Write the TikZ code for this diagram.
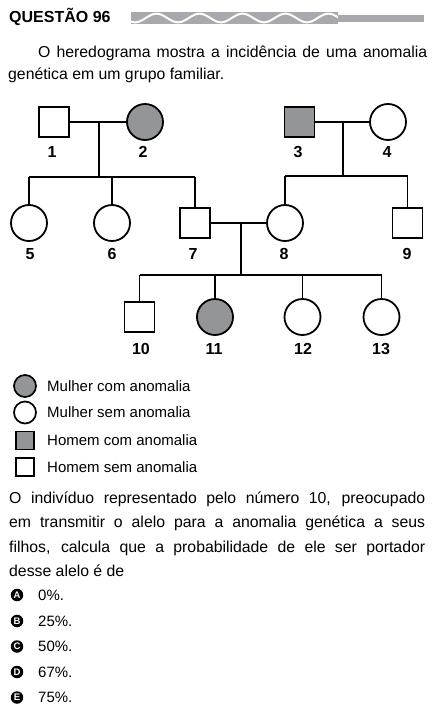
\documentclass[tikz,border=0pt]{standalone}
\usepackage{fontspec}
\setmainfont{Liberation Sans}
\definecolor{anom}{HTML}{939598}
\definecolor{wavegray}{HTML}{A7A9AC}
\newcommand{\bodyfnt}{\fontsize{15.8}{19}\selectfont}
\newcommand{\legfnt}{\fontsize{15}{18}\selectfont}
\begin{document}
\begin{tikzpicture}[x=1pt,y=-1pt,
  ind/.style={draw=black, line width=1.8pt, inner sep=0pt},
  fem/.style={ind, circle, minimum size=36pt},
  mal/.style={ind, rectangle, minimum size=30pt},
  aff/.style={fill=anom},
  lab/.style={font=\fontsize{16}{16}\selectfont\bfseries, inner sep=0pt},
  link/.style={draw=black, line width=1.8pt},
  txt/.style={anchor=base west, inner sep=0pt, font=\bodyfnt},
  legtxt/.style={anchor=base west, inner sep=0pt, font=\legfnt},
  legfem/.style={draw=black, line width=1.7pt, circle, inner sep=0pt, minimum size=22pt},
  legmal/.style={draw=black, line width=1.7pt, rectangle, inner sep=0pt, minimum size=18pt},
  optc/.style={circle, fill=black, inner sep=0pt, minimum size=12.5pt, text=white, font=\fontsize{9.5}{9.5}\selectfont\bfseries},
  opttxt/.style={anchor=base west, inner sep=0pt, font=\legfnt}
]
\useasboundingbox (0,0) rectangle (432,715);
\fill[white] (0,0) rectangle (432,715);

% header
\node[anchor=base west, inner sep=0pt, font=\fontsize{16}{16}\selectfont\bfseries] (title) at (9,22.5) {QUESTÃO 96};
\fill[wavegray] (131,12) rectangle (338,24);
\begin{scope}
  \clip (131,12) rectangle (338,24);
  \draw[white, line width=2pt] plot[domain=128:340, samples=150, smooth] (\x,{18+4.3*cos(8.3721*(\x-135))});
\end{scope}
\fill[wavegray] (338,15) rectangle (424,21.5);

% intro text
\node[txt] (t1) at (38,57) {\makebox[389pt][s]{O heredograma mostra a incidência de uma anomalia}};
\node[txt] (t2) at (8,79) {genética em um grupo familiar.};

% pedigree individuals
\node[mal] (p1) at (54,122) {};
\node[fem, aff] (p2) at (145,122) {};
\node[mal, aff] (p3) at (299.5,122) {};
\node[fem] (p4) at (388,122) {};
\node[fem] (p5) at (29,223) {};
\node[fem] (p6) at (112,223) {};
\node[mal] (p7) at (195,223) {};
\node[fem] (p8) at (285,223) {};
\node[mal] (p9) at (407.5,223) {};
\node[mal] (p10) at (139.5,317) {};
\node[fem, aff] (p11) at (215,317) {};
\node[fem] (p12) at (302.5,317) {};
\node[fem] (p13) at (381.5,317) {};

% labels
\node[lab] (l1) at (52,152) {1};
\node[lab] (l2) at (143,152) {2};
\node[lab] (l3) at (298,152) {3};
\node[lab] (l4) at (387,152) {4};
\node[lab] (l5) at (30,254) {5};
\node[lab] (l6) at (112,254) {6};
\node[lab] (l7) at (193,254) {7};
\node[lab] (l8) at (284,254) {8};
\node[lab] (l9) at (407,254) {9};
\node[lab] (l10) at (141,349) {10};
\node[lab] (l11) at (214,349) {11};
\node[lab] (l12) at (303,349) {12};
\node[lab] (l13) at (381,349) {13};

% connectors
\coordinate (m12) at (99,122);
\coordinate (s12) at (99,177);
\coordinate (m34) at (343,122);
\coordinate (s34) at (343,176);
\coordinate (m78) at (241,223);
\coordinate (s78) at (241,275);

\draw[link] (p1.east) -- (p2.west);
\draw[link] (m12) -- (s12);
\draw[link] (p5.north |- s12) -- (p7.north |- s12);
\draw[link] (p5.north |- s12) -- (p5.north);
\draw[link] (p6.north |- s12) -- (p6.north);
\draw[link] (p7.north |- s12) -- (p7.north);

\draw[link] (p3.east) -- (p4.west);
\draw[link] (m34) -- (s34);
\draw[link] (p8.north |- s34) -- (p9.north |- s34);
\draw[link] (p8.north |- s34) -- (p8.north);
\draw[link] (p9.north |- s34) -- (p9.north);

\draw[link] (p7.east) -- (p8.west);
\draw[link] (m78) -- (s78);
\draw[link] (p10.north |- s78) -- (p13.north |- s78);
\draw[link] (p10.north |- s78) -- (p10.north);
\draw[link] (p11.north |- s78) -- (p11.north);
\draw[link] (p12.north |- s78) -- (p12.north);
\draw[link] (p13.north |- s78) -- (p13.north);

% legend
\node[legfem, fill=anom] (g1) at (25,386) {};
\node[legtxt] (g1t) at (47,391.4) {Mulher com anomalia};
\node[legfem] (g2) at (25,412.5) {};
\node[legtxt] (g2t) at (47,417.9) {Mulher sem anomalia};
\node[legmal, fill=anom] (g3) at (25,440.5) {};
\node[legtxt] (g3t) at (47,445.9) {Homem com anomalia};
\node[legmal] (g4) at (25,467) {};
\node[legtxt] (g4t) at (47,472.4) {Homem sem anomalia};

% question text
\node[txt] (q1) at (9,503) {\makebox[416pt][s]{O indivíduo representado pelo número 10, preocupado}};
\node[txt] (q2) at (9,527.5) {\makebox[416pt][s]{em transmitir o alelo para a anomalia genética a seus}};
\node[txt] (q3) at (9,552) {\makebox[416pt][s]{filhos, calcula que a probabilidade de ele ser portador}};
\node[txt] (q4) at (9,576.5) {desse alelo é de};

% options
\node[optc] (oA) at (17,595) {A};
\node[opttxt] (tA) at (38,600.4) {0\%.};
\node[optc] (oB) at (17,621) {B};
\node[opttxt] (tB) at (38,626.4) {25\%.};
\node[optc] (oC) at (17,646.5) {C};
\node[opttxt] (tC) at (38,651.9) {50\%.};
\node[optc] (oD) at (17,672) {D};
\node[opttxt] (tD) at (38,677.4) {67\%.};
\node[optc] (oE) at (17,697.5) {E};
\node[opttxt] (tE) at (38,702.9) {75\%.};
\end{tikzpicture}
\end{document}
